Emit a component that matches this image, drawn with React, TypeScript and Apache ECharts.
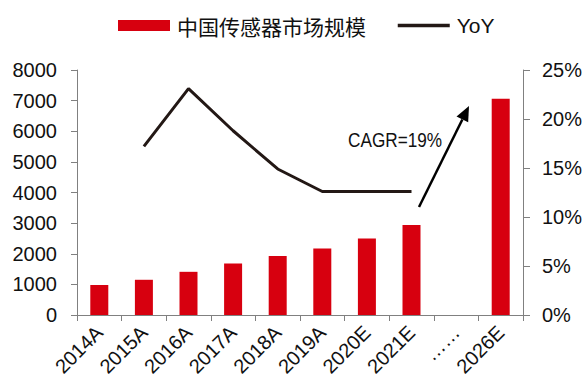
import React, { useEffect, useRef } from "react";
import * as echarts from "echarts";

// 中国传感器市场规模（亿元）与同比增速
const categories = ["2014A", "2015A", "2016A", "2017A", "2018A", "2019A", "2020E", "2021E", "……", "2026E"];
const marketSize = [980, 1150, 1410, 1680, 1930, 2170, 2500, 2940, null, 7060];
const yoy = [null, 17.2, 23.1, 18.8, 14.9, 12.6, 12.6, 12.6, null, null];
const leftTicks = { min: 0, max: 8000, interval: 1000 };
const rightTicks = { min: 0, max: 25, interval: 5 };
const cagrText = "CAGR=19%";

const RED = "#D7000F";
const DARK = "#231815";
const AXIS = "#808080";
const LATIN = "'Liberation Sans', Arial, sans-serif";
const CJK = "'Noto Sans CJK SC', 'Liberation Sans', sans-serif";

// arrow from the 2021E bar towards 2026E
const arrowFrom = [419, 207];
const arrowTip = [469, 106];

function arrowGraphics() {
  const dx = arrowTip[0] - arrowFrom[0];
  const dy = arrowTip[1] - arrowFrom[1];
  const len = Math.hypot(dx, dy);
  const ux = dx / len;
  const uy = dy / len;
  const headLen = 15;
  const headHalf = 6.5;
  const bx = arrowTip[0] - ux * headLen;
  const by = arrowTip[1] - uy * headLen;
  const px = -uy * headHalf;
  const py = ux * headHalf;
  return [
    {
      type: "line",
      shape: { x1: arrowFrom[0], y1: arrowFrom[1], x2: bx, y2: by },
      style: { stroke: "#000", lineWidth: 2.5 },
    },
    {
      type: "polygon",
      shape: {
        points: [
          [arrowTip[0], arrowTip[1]],
          [bx + px, by + py],
          [bx - px, by - py],
        ],
      },
      style: { fill: "#000" },
    },
    {
      type: "text",
      x: 348,
      y: 130,
      scaleX: 0.86,
      style: {
        text: cagrText,
        fill: "#111",
        font: "20px 'Liberation Sans', Arial, sans-serif",
        textVerticalAlign: "top",
      },
    },
  ];
}

export default function App() {
  const ref = useRef<HTMLDivElement>(null);

  useEffect(() => {
    if (!ref.current) return;
    const chart = echarts.init(ref.current, null, { renderer: "svg" });
    chart.setOption({
      animation: false,
      backgroundColor: "#fff",
      legend: {
        left: 113,
        top: 10,
        itemWidth: 52,
        itemHeight: 11,
        itemGap: 30,
        textStyle: { fontFamily: CJK, fontSize: 21, color: "#111", padding: [0, 0, 0, 2] },
        data: [
          { name: "中国传感器市场规模", icon: "rect" },
          {
            name: "YoY",
            itemStyle: { opacity: 0 },
            lineStyle: { color: DARK, width: 3.5 },
            textStyle: { fontFamily: LATIN, fontSize: 21, color: "#111" },
          },
        ],
      },
      grid: {
        left: 77,
        right: 59,
        top: 70,
        bottom: 68,
        containLabel: false,
        outerBoundsMode: "none",
      },
      xAxis: {
        type: "category",
        data: categories,
        boundaryGap: true,
        axisLine: { lineStyle: { color: AXIS, width: 1 } },
        axisTick: { show: true, length: 6, lineStyle: { color: AXIS } },
        axisLabel: {
          interval: 0,
          rotate: 45,
          margin: 14,
          color: "#111",
          fontFamily: LATIN,
          fontSize: 20,
        },
      },
      yAxis: [
        {
          type: "value",
          ...leftTicks,
          position: "left",
          axisLine: { show: true, lineStyle: { color: AXIS } },
          axisTick: { show: true, length: 6, lineStyle: { color: AXIS } },
          splitLine: { show: false },
          axisLabel: {
            margin: 20,
            color: "#111",
            fontFamily: LATIN,
            fontSize: 20,
            formatter: (v: number) => String(v),
          },
        },
        {
          type: "value",
          ...rightTicks,
          position: "right",
          axisLine: { show: true, lineStyle: { color: AXIS } },
          axisTick: { show: true, length: 7, lineStyle: { color: AXIS } },
          splitLine: { show: false },
          axisLabel: {
            margin: 19,
            color: "#111",
            fontFamily: LATIN,
            fontSize: 20,
            formatter: "{value}%",
          },
        },
      ],
      series: [
        {
          name: "中国传感器市场规模",
          type: "bar",
          data: marketSize,
          barWidth: 18,
          itemStyle: { color: RED },
        },
        {
          name: "YoY",
          type: "line",
          yAxisIndex: 1,
          data: yoy,
          symbol: "none",
          connectNulls: false,
          lineStyle: { color: DARK, width: 3 },
          itemStyle: { color: DARK },
        },
      ],
      graphic: arrowGraphics(),
    });
    return () => chart.dispose();
  }, []);

  return (
    <div
      ref={ref}
      style={{ position: "fixed", left: 0, top: 0, width: 582, height: 383 }}
    />
  );
}
